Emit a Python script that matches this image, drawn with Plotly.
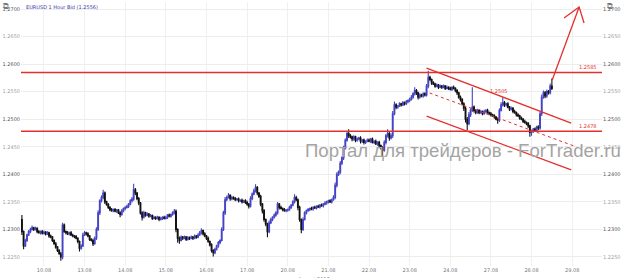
import plotly.graph_objects as go

# ---------------- data (EUR/USD, 1 hour bars, Aug 2012) ----------------
day_labels = ["10.08", "13.08", "14.08", "15.08", "16.08", "17.08", "20.08",
              "21.08", "22.08", "23.08", "24.08", "27.08", "28.08", "29.08"]
day_start = [0, 24, 48, 72, 96, 120, 144, 168, 192, 216, 240, 264, 288, 312]

first_open = 1.2318
first_t = -13  # 09.08 11:00

close = [
    # 09.08
    1.2296, 1.2270, 1.2280, 1.2290, 1.2296, 1.2300, 1.2303, 1.2300, 1.2302, 1.2296, 1.2294, 1.2296, 1.2293,
    # 10.08
    1.2295, 1.2292, 1.2294, 1.2288, 1.2286, 1.2280, 1.2274, 1.2268, 1.2262, 1.2256, 1.2250, 1.2308,
    1.2296, 1.2294, 1.2292, 1.2294, 1.2290, 1.2288, 1.2287, 1.2284, 1.2278, 1.2266, 1.2270, 1.2290,
    # 13.08
    1.2294, 1.2292, 1.2288, 1.2282, 1.2280, 1.2274, 1.2284, 1.2300, 1.2330, 1.2352, 1.2358, 1.2366,
    1.2350, 1.2345, 1.2340, 1.2336, 1.2334, 1.2336, 1.2333, 1.2335, 1.2330, 1.2327, 1.2334, 1.2338,
    # 14.08
    1.2340, 1.2342, 1.2346, 1.2352, 1.2355, 1.2372, 1.2366, 1.2356, 1.2348, 1.2330, 1.2322, 1.2330,
    1.2326, 1.2328, 1.2324, 1.2325, 1.2320, 1.2322, 1.2320, 1.2322, 1.2318, 1.2320, 1.2322, 1.2320,
    # 15.08
    1.2322, 1.2326, 1.2324, 1.2327, 1.2330, 1.2333, 1.2300, 1.2284, 1.2280, 1.2286, 1.2284, 1.2286,
    1.2282, 1.2285, 1.2284, 1.2286, 1.2284, 1.2288, 1.2286, 1.2290, 1.2294, 1.2298, 1.2292, 1.2288,
    # 16.08
    1.2284, 1.2278, 1.2272, 1.2262, 1.2258, 1.2264, 1.2270, 1.2276, 1.2280, 1.2300, 1.2330, 1.2354,
    1.2358, 1.2362, 1.2356, 1.2358, 1.2356, 1.2354, 1.2355, 1.2352, 1.2353, 1.2350, 1.2352, 1.2349,
    # 17.08
    1.2346, 1.2342, 1.2356, 1.2364, 1.2370, 1.2376, 1.2366, 1.2360, 1.2346, 1.2334, 1.2318, 1.2310,
    1.2296, 1.2312, 1.2318, 1.2322, 1.2326, 1.2330, 1.2346, 1.2340, 1.2338, 1.2336, 1.2334, 1.2335,
    # 20.08
    1.2336, 1.2340, 1.2344, 1.2350, 1.2358, 1.2354, 1.2340, 1.2318, 1.2300, 1.2318, 1.2330, 1.2334,
    1.2336, 1.2338, 1.2337, 1.2340, 1.2339, 1.2342, 1.2341, 1.2344, 1.2343, 1.2346, 1.2348, 1.2350,
    # 21.08
    1.2352, 1.2350, 1.2354, 1.2358, 1.2380, 1.2400, 1.2404, 1.2420, 1.2430, 1.2448, 1.2462, 1.2474,
    1.2470, 1.2468, 1.2464, 1.2468, 1.2462, 1.2464, 1.2466, 1.2460, 1.2462, 1.2458, 1.2460, 1.2462,
    # 22.08
    1.2460, 1.2464, 1.2458, 1.2460, 1.2455, 1.2458, 1.2452, 1.2448, 1.2444, 1.2458, 1.2470, 1.2474,
    1.2466, 1.2470, 1.2510, 1.2526, 1.2522, 1.2524, 1.2528, 1.2526, 1.2530, 1.2528, 1.2532, 1.2534,
    # 23.08
    1.2536, 1.2540, 1.2546, 1.2552, 1.2548, 1.2540, 1.2544, 1.2542, 1.2546, 1.2544, 1.2560, 1.2576,
    1.2572, 1.2566, 1.2564, 1.2560, 1.2562, 1.2558, 1.2560, 1.2558, 1.2560, 1.2556, 1.2558, 1.2556,
    # 24.08
    1.2554, 1.2558, 1.2556, 1.2552, 1.2548, 1.2540, 1.2536, 1.2528, 1.2520, 1.2500, 1.2492, 1.2508,
    1.2516, 1.2522, 1.2516, 1.2512, 1.2516, 1.2512, 1.2514, 1.2510, 1.2514, 1.2516, 1.2512, 1.2510,
    # 27.08
    1.2508, 1.2506, 1.2504, 1.2500, 1.2498, 1.2516, 1.2526, 1.2530, 1.2526, 1.2528, 1.2522, 1.2518,
    1.2520, 1.2514, 1.2512, 1.2508, 1.2506, 1.2502, 1.2500, 1.2496, 1.2494, 1.2492, 1.2488, 1.2476,
    # 28.08
    1.2478, 1.2482, 1.2480, 1.2486, 1.2484, 1.2510, 1.2540, 1.2548, 1.2542, 1.2550, 1.2548, 1.2560, 1.2556,
]

# upper / lower wick length of each bar, in pips
wick_up = [
    8, 2, 3, 2, 3, 3, 4, 2, 3, 2, 3, 2, 3,
    3, 2, 3, 2, 3, 2, 2, 3, 2, 2, 3, 4, 3, 2, 3, 2, 3, 2, 2, 3, 2, 2, 3, 4,
    3, 2, 3, 2, 2, 3, 3, 4, 5, 3, 4, 6, 3, 2, 3, 2, 3, 2, 3, 2, 2, 3, 3, 2,
    2, 3, 2, 3, 4, 11, 3, 2, 3, 2, 3, 4, 2, 3, 2, 3, 2, 3, 2, 3, 2, 3, 2, 3,
    3, 2, 3, 2, 3, 4, 3, 2, 3, 3, 2, 3, 2, 3, 2, 3, 2, 3, 2, 3, 3, 4, 2, 3,
    2, 3, 2, 3, 2, 3, 2, 3, 2, 4, 4, 5, 3, 4, 2, 3, 2, 3, 2, 3, 2, 3, 2, 3,
    3, 2, 4, 3, 4, 6, 3, 2, 3, 2, 3, 2, 2, 4, 3, 2, 3, 3, 4, 2, 3, 2, 3, 2,
    2, 3, 2, 3, 6, 3, 2, 3, 2, 4, 3, 2, 3, 2, 3, 2, 3, 2, 3, 2, 3, 2, 3, 2,
    2, 3, 2, 4, 5, 4, 3, 4, 3, 4, 3, 4, 8, 3, 2, 3, 2, 3, 2, 3, 2, 3, 2, 3,
    3, 2, 3, 2, 3, 2, 3, 2, 3, 4, 3, 8, 3, 4, 5, 6, 3, 2, 3, 2, 3, 2, 3, 2,
    3, 4, 3, 6, 3, 2, 3, 2, 3, 3, 4, 12, 3, 2, 3, 2, 3, 2, 3, 2, 3, 2, 3, 2,
    3, 2, 3, 2, 3, 2, 3, 2, 3, 3, 4, 5, 4, 36, 3, 2, 3, 2, 3, 2, 3, 2, 3, 2,
    3, 2, 3, 2, 3, 4, 5, 10, 3, 2, 3, 2, 3, 2, 3, 2, 3, 2, 3, 2, 3, 2, 3, 2,
    3, 2, 3, 2, 3, 4, 5, 4, 3, 4, 3, 5, 14,
]
wick_dn = [
    6, 6, 2, 3, 2, 3, 2, 3, 2, 3, 2, 3, 2,
    2, 3, 2, 3, 2, 3, 2, 3, 3, 2, 7, 4, 2, 3, 2, 3, 2, 2, 3, 2, 3, 6, 3, 2,
    2, 3, 2, 3, 2, 4, 2, 3, 3, 4, 3, 3, 4, 2, 3, 3, 2, 3, 2, 3, 2, 5, 2, 3,
    3, 2, 3, 2, 3, 3, 4, 3, 4, 3, 6, 2, 3, 2, 3, 2, 3, 2, 3, 2, 3, 2, 3, 2,
    2, 3, 2, 3, 2, 3, 5, 8, 6, 2, 3, 2, 3, 2, 3, 2, 3, 2, 3, 2, 2, 3, 3, 2,
    3, 2, 3, 4, 7, 3, 2, 3, 3, 2, 3, 4, 3, 2, 4, 3, 2, 3, 2, 3, 2, 3, 2, 3,
    3, 4, 2, 3, 2, 3, 4, 3, 4, 5, 4, 4, 10, 3, 2, 3, 2, 3, 3, 4, 2, 3, 2, 3,
    3, 2, 3, 2, 3, 3, 5, 4, 7, 3, 2, 3, 2, 3, 2, 3, 2, 3, 2, 3, 2, 3, 2, 3,
    3, 2, 3, 2, 3, 4, 3, 4, 3, 4, 3, 3, 4, 3, 4, 3, 4, 3, 2, 4, 3, 4, 3, 2,
    2, 3, 2, 3, 2, 3, 4, 3, 12, 3, 4, 3, 5, 3, 4, 3, 4, 3, 2, 3, 2, 3, 2, 3,
    3, 2, 3, 3, 4, 4, 3, 2, 3, 3, 3, 4, 3, 4, 2, 3, 2, 3, 2, 3, 2, 3, 2, 3,
    2, 3, 2, 3, 4, 3, 4, 3, 5, 6, 12, 3, 4, 3, 4, 3, 2, 3, 2, 3, 2, 3, 2, 3,
    3, 2, 3, 2, 6, 3, 2, 3, 4, 3, 2, 3, 2, 3, 2, 3, 2, 3, 2, 3, 2, 3, 4, 8,
    6, 3, 2, 3, 4, 3, 4, 3, 4, 3, 3, 3, 3,
]

# y-axis ticks
price_ticks = [1.2250, 1.2300, 1.2350, 1.2400, 1.2450, 1.2500, 1.2550, 1.2600, 1.2650, 1.2700]

# drawing tools (hour index, price)
level_hi = 1.2585
level_lo = 1.2478
chan_t = [226.0, 311.4]
chan_upper = [1.25929, 1.24931]
chan_mid_t = [227.8, 313.1]
chan_mid = [1.25476, 1.24514]
chan_lower = [1.25058, 1.24079]
arrow_t = [300.2, 316.1]
arrow_p = [1.2571, 1.27036]
arm_t = [307.2, 316.1, 319.0]
arm_p = [1.26837, 1.27036, 1.26746]
chan_label = "1.2505"
chan_label_pos = (269, 1.2551)

# ---------------- build ----------------
t = list(range(first_t, first_t + len(close)))
opens = [first_open] + close[:-1]
highs = [max(o, c) + w * 0.0001 for o, c, w in zip(opens, close, wick_up)]
lows = [min(o, c) - w * 0.0001 for o, c, w in zip(opens, close, wick_dn)]

RED = "#e3302c"
fig = go.Figure()
fig.add_trace(go.Candlestick(
    x=t, open=opens, high=highs, low=lows, close=close,
    increasing=dict(line=dict(color="#4444c4", width=1.1), fillcolor="#8282e4"),
    decreasing=dict(line=dict(color="#111111", width=1.1), fillcolor="#111111"),
    whiskerwidth=0, showlegend=False, hoverinfo="skip",
))
fig.add_trace(go.Scatter(x=chan_t, y=chan_upper, mode="lines",
                         line=dict(color=RED, width=1.3), showlegend=False, hoverinfo="skip"))
fig.add_trace(go.Scatter(x=chan_mid_t, y=chan_mid, mode="lines",
                         line=dict(color=RED, width=1, dash="dot"), showlegend=False, hoverinfo="skip"))
fig.add_trace(go.Scatter(x=chan_t, y=chan_lower, mode="lines",
                         line=dict(color=RED, width=1.3), showlegend=False, hoverinfo="skip"))
fig.add_trace(go.Scatter(x=arrow_t, y=arrow_p, mode="lines",
                         line=dict(color=RED, width=1.3), showlegend=False, hoverinfo="skip"))
fig.add_trace(go.Scatter(x=arm_t, y=arm_p, mode="lines",
                         line=dict(color=RED, width=1.3), showlegend=False, hoverinfo="skip"))
# invisible trace for the right axis
fig.add_trace(go.Scatter(x=[t[0]], y=[close[0]], yaxis="y2", mode="markers",
                         marker=dict(opacity=0), showlegend=False, hoverinfo="skip"))

for lvl in (level_hi, level_lo):
    fig.add_shape(type="line", xref="paper", x0=0, x1=1, yref="y", y0=lvl, y1=lvl,
                  line=dict(color=RED, width=1.5))

def tick_txt(v):
    major = abs(round(v * 1000) % 10) == 0
    col = "#555555" if major else "#a0a0a0"
    return f"<span style='color:{col}'>{v:.4f}</span>"

ticktext = [tick_txt(v) for v in price_ticks]
yr = [1.223366, 1.271270]
xr = [-13.54, 329.6]

axis_font = dict(family="DejaVu Sans", size=5, color="#777777")
fig.update_layout(
    width=623, height=278,
    margin=dict(l=20, r=20, t=2, b=12),
    paper_bgcolor="white", plot_bgcolor="white",
    xaxis=dict(range=xr, tickvals=day_start, ticktext=day_labels, showgrid=True,
               gridcolor="#f0f0f0", gridwidth=1, zeroline=False, showline=False,
               ticks="", tickfont=axis_font, rangeslider=dict(visible=False)),
    yaxis=dict(range=yr, tickvals=price_ticks, ticktext=ticktext, showgrid=True,
               gridcolor="#ededed", zeroline=False, ticks="", tickfont=axis_font,
               side="left"),
    yaxis2=dict(range=yr, tickvals=price_ticks, ticktext=ticktext, overlaying="y",
                side="right", showgrid=False, zeroline=False, ticks="", tickfont=axis_font),
    font=dict(family="DejaVu Sans"),
)

annots = [
    dict(text="EURUSD 1 Hour Bid (1.2556)", xref="paper", yref="paper", x=0.006, y=0.999,
         xanchor="left", yanchor="top", showarrow=False,
         font=dict(family="DejaVu Sans", size=5, color="#3a3aa8")),
    dict(text=f"{level_hi:.4f}", xref="paper", yref="y", x=0.995, y=level_hi, xanchor="right",
         yanchor="bottom", showarrow=False, font=dict(size=5, color=RED)),
    dict(text=f"{level_lo:.4f}", xref="paper", yref="y", x=0.995, y=level_lo, xanchor="right",
         yanchor="bottom", showarrow=False, font=dict(size=5, color=RED)),
    dict(text=chan_label, xref="x", yref="y", x=chan_label_pos[0], y=chan_label_pos[1],
         showarrow=False, font=dict(size=5, color=RED)),
    dict(text="Портал для трейдеров - ForTrader.ru", xref="paper", yref="paper",
         x=(464 - 20) / 583, y=(266 - 150) / 264, xanchor="center", yanchor="middle",
         showarrow=False, font=dict(family="Liberation Sans", size=18.6, color="#a4a4a4")),
    dict(text="August 2012", xref="paper", yref="paper", x=(296 - 20) / 583, y=-0.03,
         xanchor="left", yanchor="top", showarrow=False,
         font=dict(family="DejaVu Sans", size=5, color="#777777")),
    dict(text="⧉", xref="paper", yref="paper", x=-0.034, y=1.008, xanchor="left", yanchor="top",
         showarrow=False, font=dict(size=8, color="#777777")),
    dict(text="⧉", xref="paper", yref="paper", x=1.005, y=1.008, xanchor="left", yanchor="top",
         showarrow=False, font=dict(size=8, color="#777777")),
]
fig.update_layout(annotations=annots)

fig.write_html("out.html")
